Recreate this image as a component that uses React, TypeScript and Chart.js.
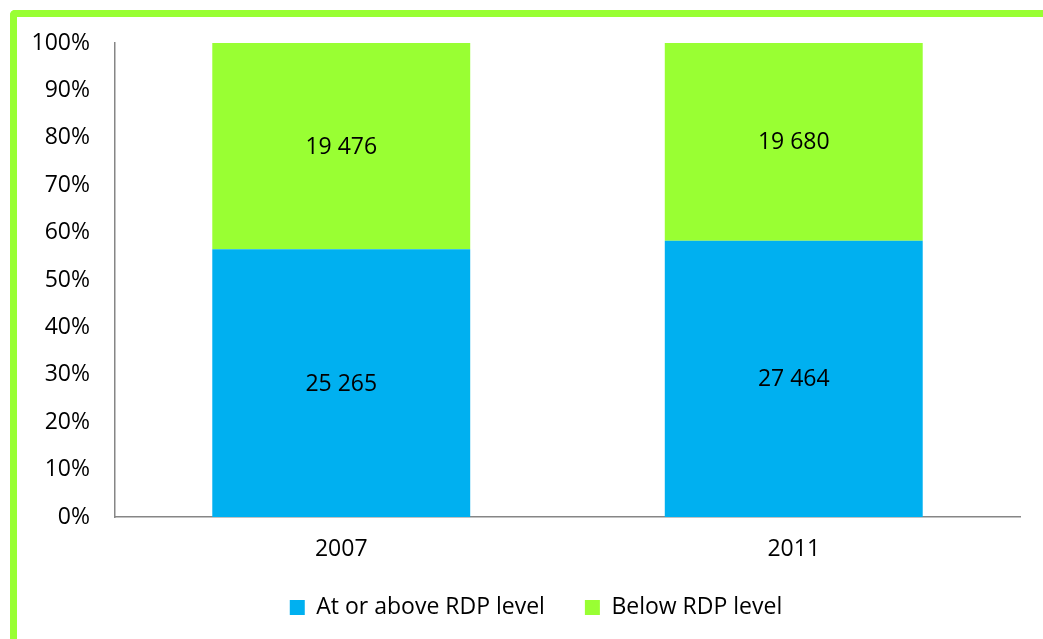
import React, { useEffect, useRef } from "react";
import { Chart, registerables } from "chart.js";

Chart.register(...registerables);

const categories = ["2007", "2011"];
const seriesNames = ["At or above RDP level", "Below RDP level"];
const atOrAbove = [25265, 27464];
const below = [19476, 19680];
const yTicks = [0, 10, 20, 30, 40, 50, 60, 70, 80, 90, 100];

const BLUE = "#00B0F0";
const GREEN = "#99FF33";
const AXIS = "#868686";
const FONT = "'Open Sans', 'Noto Sans', sans-serif";
const FS = 23;

const totals = categories.map((_, i) => atOrAbove[i] + below[i]);
const pct = (arr: number[]) => arr.map((v, i) => (v / totals[i]) * 100);
const rawValues = [atOrAbove, below];

const fmt = (n: number) => String(n).replace(/\B(?=(\d{3})+(?!\d))/g, " ");

const valueLabels = {
  id: "valueLabels",
  afterDatasetsDraw(chart: any) {
    const ctx = chart.ctx;
    ctx.save();
    ctx.font = `${FS}px ${FONT}`;
    ctx.fillStyle = "#000";
    ctx.textAlign = "center";
    ctx.textBaseline = "middle";
    chart.data.datasets.forEach((ds: any, di: number) => {
      const meta = chart.getDatasetMeta(di);
      meta.data.forEach((bar: any, i: number) => {
        const p = bar.getProps(["x", "y", "base"], true);
        ctx.fillText(fmt(rawValues[di][i]), p.x, (p.y + p.base) / 2 + 1);
      });
    });
    ctx.restore();
  },
};

const legendShift = {
  id: "legendShift",
  afterLayout(chart: any) {
    if (chart.legend) {
      chart.legend.left += 26;
      chart.legend.right += 26;
    }
  },
};

export default function App() {
  const ref = useRef<HTMLCanvasElement>(null);
  useEffect(() => {
    if (!ref.current) return;
    const chart = new Chart(ref.current, {
      type: "bar",
      data: {
        labels: categories,
        datasets: [
          { label: seriesNames[0], data: pct(atOrAbove), backgroundColor: BLUE, borderWidth: 0, categoryPercentage: 1, barPercentage: 0.57 },
          { label: seriesNames[1], data: pct(below), backgroundColor: GREEN, borderWidth: 0, categoryPercentage: 1, barPercentage: 0.57 },
        ],
      },
      options: {
        animation: false,
        responsive: false,
        maintainAspectRatio: false,
        layout: { padding: { top: 43, right: 23, left: 0, bottom: 10 } },
        plugins: {
          tooltip: { enabled: false },
          legend: {
            position: "bottom",
            labels: {
              boxWidth: 15,
              boxHeight: 15,
              padding: 40,
              color: "#000",
              font: { family: FONT, size: FS },
            },
          },
        },
        scales: {
          x: {
            stacked: true,
            grid: { display: false, drawTicks: false },
            border: { display: true, color: AXIS, width: 1.5 },
            ticks: { color: "#000", padding: 19, font: { family: FONT, size: FS } },
            afterFit: (s: any) => {
              s.height = 39;
              s._computeLabelArea = () => undefined;
            },
          },
          y: {
            stacked: true,
            min: 0,
            max: 100,
            grid: { display: false, drawTicks: false },
            border: { display: true, color: AXIS, width: 1.5 },
            afterBuildTicks: (s: any) => { s.ticks = yTicks.map((v) => ({ value: v })); },
            ticks: {
              color: "#000",
              padding: 25,
              font: { family: FONT, size: FS },
              callback: (v: any) => `${v}%`,
            },
            afterFit: (s: any) => { s.width = 115; },
          },
        },
      } as any,
      plugins: [valueLabels, legendShift],
    });
    return () => chart.destroy();
  }, []);

  return (
    <div style={{ position: "absolute", left: 0, top: 0, width: 1043, height: 639, background: "#fff", overflow: "hidden" }}>
      <canvas ref={ref} width={1043} height={639} style={{ position: "absolute", left: 0, top: 0 }} />
      <div
        style={{
          position: "absolute",
          left: 10,
          top: 10,
          width: 1040,
          height: 640,
          boxSizing: "border-box",
          borderTop: `7px solid ${GREEN}`,
          borderLeft: `7px solid ${GREEN}`,
          borderTopLeftRadius: 5,
          pointerEvents: "none",
        }}
      />
    </div>
  );
}
